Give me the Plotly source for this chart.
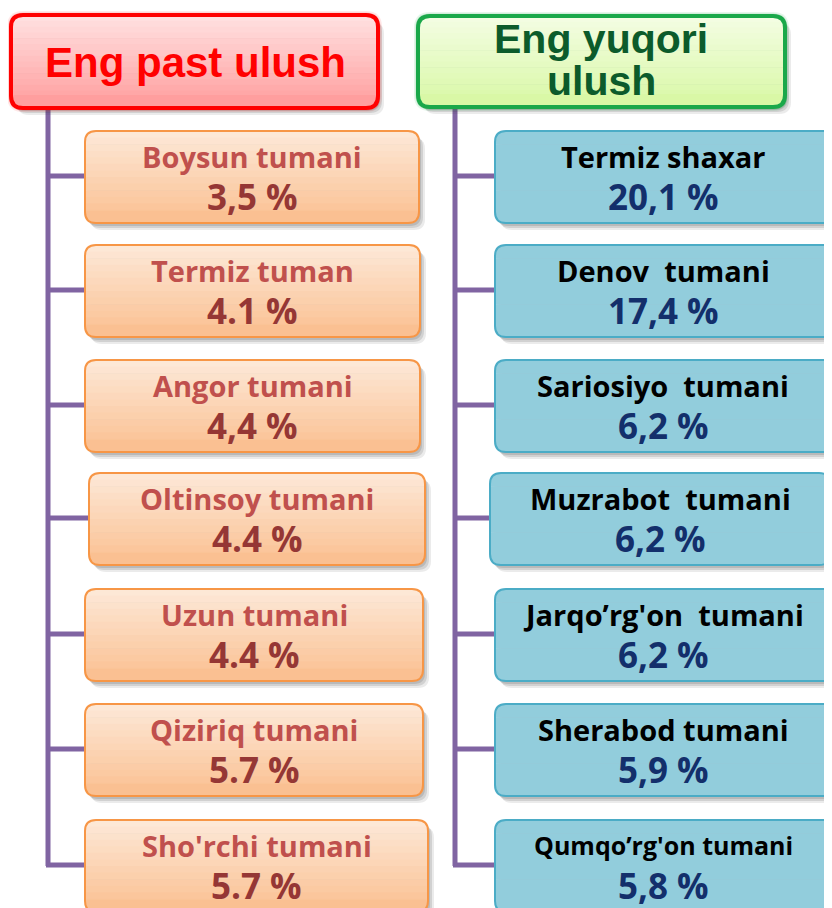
import plotly.graph_objects as go

# ---- data ----
low_names = ["Boysun tumani", "Termiz tuman", "Angor tumani", "Oltinsoy tumani",
             "Uzun tumani", "Qiziriq tumani", "Sho'rchi tumani"]
low_values = ["3,5 %", "4.1 %", "4,4 %", "4.4 %", "4.4 %", "5.7 %", "5.7 %"]
high_names = ["Termiz shaxar", "Denov  tumani", "Sariosiyo  tumani", "Muzrabot  tumani",
              "Jarqo’rg'on  tumani", "Sherabod tumani", "Qumqo’rg'on tumani"]
high_values = ["20,1 %", "17,4 %", "6,2 %", "6,2 %", "6,2 %", "5,9 %", "5,8 %"]
low_title = ["Eng past ulush"]
high_title = ["Eng yuqori", "ulush"]

W, H = 832, 908
OFF = 8  # page body margin
shapes = []
annotations = []


def rr_path(x0, y0, x1, y1, r, top=True, bottom=True):
    rt = r if top else 0
    rb = r if bottom else 0
    p = f"M {x0+rt},{y0} L {x1-rt},{y0} "
    p += f"Q {x1},{y0} {x1},{y0+rt} " if rt else ""
    p += f"L {x1},{y1-rb} "
    p += f"Q {x1},{y1} {x1-rb},{y1} " if rb else ""
    p += f"L {x0+rb},{y1} "
    p += f"Q {x0},{y1} {x0},{y1-rb} " if rb else ""
    p += f"L {x0},{y0+rt} "
    p += f"Q {x0},{y0} {x0+rt},{y0} " if rt else ""
    return p + "Z"


def hex2rgb(h):
    h = h.lstrip("#")
    return tuple(int(h[i:i + 2], 16) for i in (0, 2, 4))


def lerp(c0, c1, t):
    a, b = hex2rgb(c0), hex2rgb(c1)
    return "rgb(%d,%d,%d)" % tuple(round(a[i] + (b[i] - a[i]) * t) for i in range(3))


def box(x0, y0, x1, y1, ctop, cbot, border, bw=2, r=11, shadow=True, n=14, glow=None):
    if shadow:
        for k, op in [(6, 0.10), (4, 0.14), (2, 0.16)]:
            shapes.append(dict(type="path", xref="x", yref="y", layer="below",
                               path=rr_path(x0 + k, y0 + k + 1, x1 + k, y1 + k + 1, r),
                               fillcolor=f"rgba(60,60,60,{op})", line=dict(width=0)))
    if glow:
        for k, op in [(4, 0.12), (2.5, 0.2)]:
            shapes.append(dict(type="path", xref="x", yref="y", layer="below",
                               path=rr_path(x0 - k, y0 - k, x1 + k, y1 + k, r + k),
                               fillcolor=f"rgba({glow},{op})", line=dict(width=0)))
    h = (y1 - y0) / n
    for i in range(n):
        a = y0 + i * h
        b = y0 + (i + 1) * h + (0.6 if i < n - 1 else 0)
        col = lerp(ctop, cbot, (i + 0.5) / n)
        if i == 0:
            pth = rr_path(x0, y0, x1, max(b, y0 + r + 1), r, top=True, bottom=False)
        elif i == n - 1:
            pth = rr_path(x0, min(a, y1 - r - 1), x1, y1, r, top=False, bottom=True)
        else:
            pth = rr_path(x0, a, x1, b, r, top=False, bottom=False)
        shapes.append(dict(type="path", xref="x", yref="y", layer="below",
                           path=pth, fillcolor=col, line=dict(width=0)))
    shapes.append(dict(type="path", xref="x", yref="y", layer="below",
                       path=rr_path(x0, y0, x1, y1, r),
                       fillcolor="rgba(0,0,0,0)", line=dict(color=border, width=bw)))


def line(x0, y0, x1, y1, color="#8064a2", w=5):
    shapes.append(dict(type="line", xref="x", yref="y", layer="below",
                       x0=x0, y0=y0, x1=x1, y1=y1, line=dict(color=color, width=w)))


def text(x, y, s, size, color, family="Open Sans"):
    annotations.append(dict(x=x, y=y, text=f"<b>{s}</b>", showarrow=False,
                            font=dict(family=family, size=size, color=color),
                            xref="x", yref="y"))


# connector trees
tops = [131, 245, 360, 473, 589, 704, 820]
BH = 92
line(48, 108, 48, 866)
line(455, 108, 455, 866)
for t in tops:
    cy = t + BH / 2 - 1
    line(46, cy, 88, cy)
    line(453, cy, 496, cy)

# headers
box(11, 15, 378, 108, "#ffe2e2", "#ff9c9c", "#ff0000", bw=4, r=12, n=16, glow="255,60,60")
box(418, 16, 785, 107, "#f4fde4", "#d8f8a4", "#1aa84a", bw=4, r=12, n=16, glow="40,170,80")
text(195, 62, low_title[0], 42, "#ff0000", "Liberation Sans, Arial")
text(601, 39, high_title[0], 41, "#0c5b2b", "Liberation Sans, Arial")
text(601, 81, high_title[1], 41, "#0c5b2b", "Liberation Sans, Arial")

# left boxes
lx = [(85, 419), (85, 420), (85, 420), (89, 425), (85, 423), (85, 423), (85, 428)]
for i, (name, val) in enumerate(zip(low_names, low_values)):
    x0, x1 = lx[i]
    t = tops[i]
    box(x0, t, x1, t + BH, "#fde9d9", "#fabf8f", "#f79646", bw=2)
    cx = (x0 + x1) / 2
    text(cx, t + 25, name, 29, "#c0504d")
    text(cx, t + 65, val, 35, "#953735")

# right boxes
rx = [(495, 836), (495, 836), (495, 836), (490, 830), (495, 836), (495, 836), (495, 836)]
for i, (name, val) in enumerate(zip(high_names, high_values)):
    x0, x1 = rx[i]
    t = tops[i]
    box(x0, t, x1, t + BH, "#92cddc", "#92cddc", "#4bacc6", bw=2)
    cx = 663 if x1 > 832 else (x0 + x1) / 2
    fs = 25 if i == 6 else 29
    text(cx, t + 25, name, fs, "#000000")
    text(cx, t + 65, val, 35, "#132f6b")

fig = go.Figure()
fig.update_layout(
    width=W - OFF, height=H - OFF,
    margin=dict(l=0, r=0, t=0, b=0, pad=0),
    paper_bgcolor="white", plot_bgcolor="white",
    xaxis=dict(range=[OFF, W], visible=False, fixedrange=True),
    yaxis=dict(range=[H, OFF], visible=False, fixedrange=True),
    shapes=shapes, annotations=annotations, showlegend=False,
)
fig.write_html("out.html")
